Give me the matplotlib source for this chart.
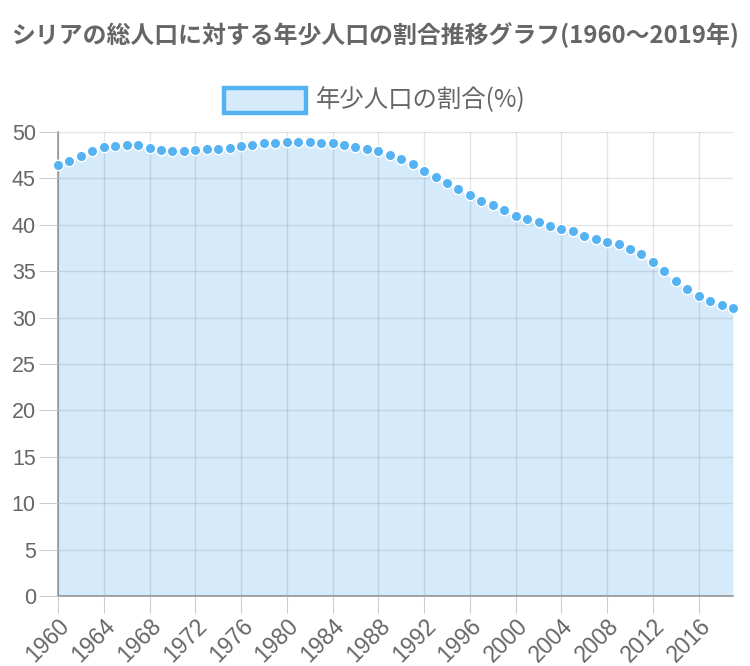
import matplotlib
matplotlib.use("Agg")
import matplotlib.pyplot as plt
from matplotlib.patches import Rectangle

years = list(range(1960, 2020))
values = [46.4, 46.9, 47.4, 47.95, 48.35, 48.5, 48.65, 48.55, 48.3, 48.1,
          48.0, 48.0, 48.05, 48.15, 48.2, 48.3, 48.5, 48.65, 48.8, 48.85,
          48.9, 48.9, 48.9, 48.85, 48.8, 48.55, 48.4, 48.15, 47.9, 47.5,
          47.05, 46.5, 45.8, 45.2, 44.5, 43.85, 43.2, 42.6, 42.1, 41.55,
          40.95, 40.65, 40.3, 39.85, 39.5, 39.3, 38.75, 38.45, 38.2, 37.9,
          37.4, 36.8, 36.0, 35.0, 33.95, 33.05, 32.35, 31.8, 31.4, 31.0]
title = "シリアの総人口に対する年少人口の割合推移グラフ(1960〜2019年)"
series_label = "年少人口の割合(%)"
yticks = list(range(0, 51, 5))
xticks = list(range(1960, 2019, 4))

JP = ['Noto Sans CJK JP', 'DejaVu Sans']
NUM = ['Liberation Sans', 'DejaVu Sans']
gray = '#666666'
line_c = '#55b3f4'
fill_c = '#d5ebfb'

fig = plt.figure(figsize=(7.5, 6.66), dpi=100)
ax = fig.add_axes([58/750, 70/666, (733-58)/750, (596-132)/666])

ax.fill_between(years, values, 0, color=fill_c, zorder=1, linewidth=0)
ax.plot(years, values, color='white', linewidth=1.5, zorder=2, clip_on=False)
ax.plot(years, values, linestyle='none', marker='o', markersize=7.5,
        markerfacecolor=line_c, markeredgecolor='white', markeredgewidth=1.0,
        zorder=3, clip_on=False)

ax.set_xlim(1960, 2019)
ax.set_ylim(0, 50)
ax.set_yticks(yticks)
ax.set_xticks(xticks)
ax.grid(True, color='#000000', alpha=0.1, linewidth=1)
ax.set_axisbelow(False)
for s in ['top', 'right']:
    ax.spines[s].set_visible(False)
for s in ['left', 'bottom']:
    ax.spines[s].set_color('#999999')
    ax.spines[s].set_linewidth(1.2)
ax.tick_params(axis='y', length=14, color='#cccccc', labelcolor=gray, labelsize=15.5, pad=2)
ax.tick_params(axis='x', length=12, color='#cccccc', labelcolor=gray, labelsize=16.5, pad=1)
ax.set_xticklabels([str(x) for x in xticks], rotation=45, ha='right', va='top',
                   rotation_mode='anchor', family=NUM)
ax.set_yticklabels([str(y) for y in yticks], family=NUM)

fig.text(375/750, 1 - 35/666, title, ha='center', va='center', fontsize=17.2,
         fontweight='bold', color=gray, family=JP)

rect = Rectangle((224/750, 1 - 113/666), 82/750, 25/666, transform=fig.transFigure,
                 facecolor=fill_c, edgecolor=line_c, linewidth=3.2)
fig.patches.append(rect)
fig.text(316/750, 1 - 100/666, series_label, ha='left', va='center', fontsize=17.6,
         color=gray, family=JP)

fig.savefig('out.png', dpi=100)
